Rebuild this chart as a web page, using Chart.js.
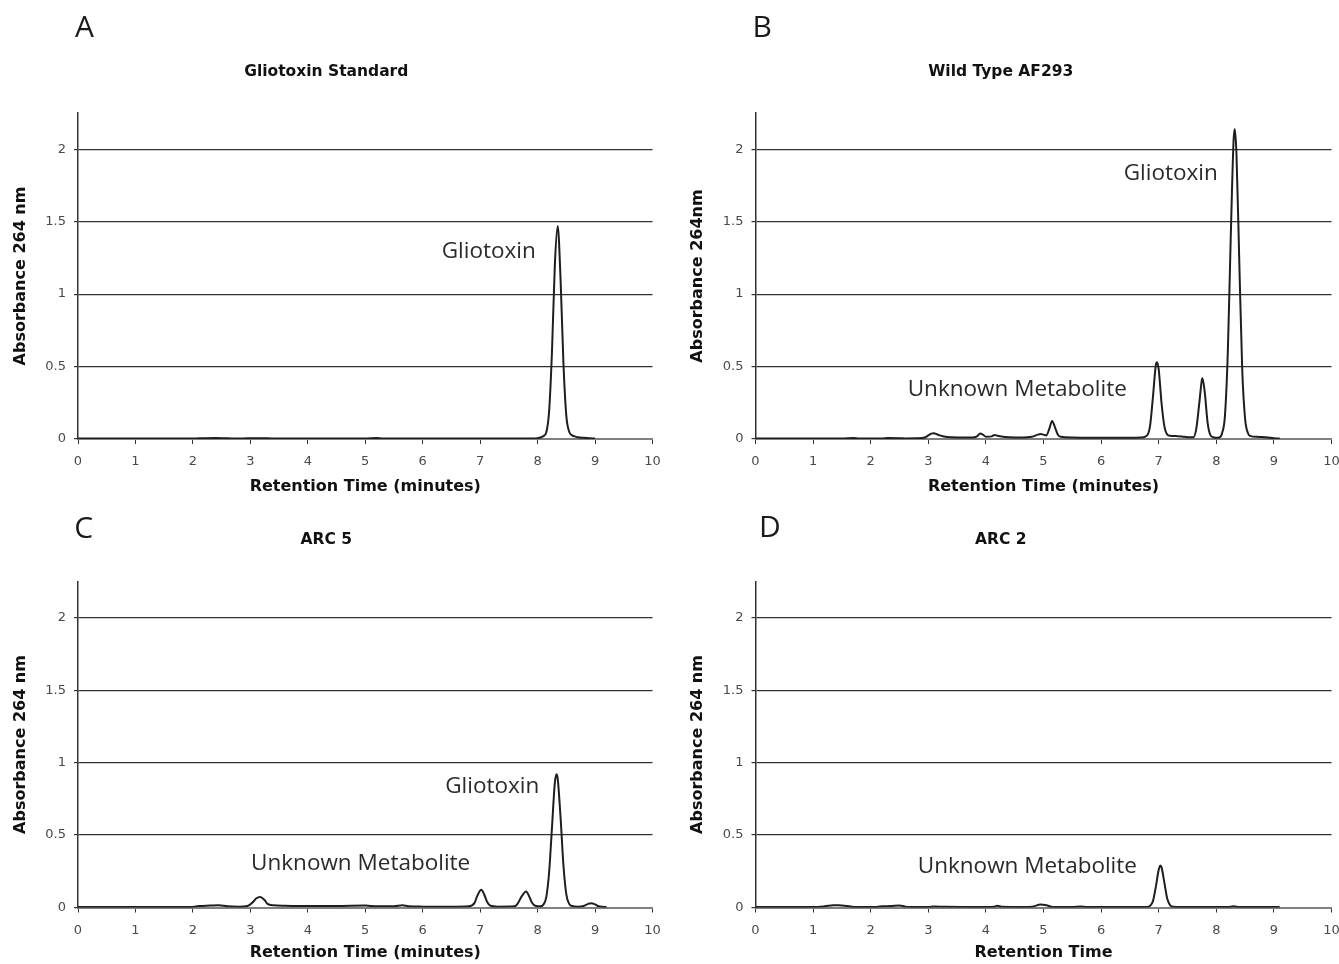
<!DOCTYPE html>
<html><head><meta charset="utf-8">
<script src="https://cdn.jsdelivr.net/npm/chart.js@4.4.1/dist/chart.umd.min.js"></script>
<style>
html,body{margin:0;padding:0;background:#fff}
body{width:1339px;height:964px;position:relative;overflow:hidden}
canvas{position:absolute}
</style></head><body>
<canvas id="cA" width="670" height="500" style="left:0;top:0"></canvas>
<canvas id="cB" width="669" height="500" style="left:670px;top:0"></canvas>
<canvas id="cC" width="670" height="464" style="left:0;top:500px"></canvas>
<canvas id="cD" width="669" height="464" style="left:670px;top:500px"></canvas>
<script>
// ---- tick labels ----
const xTicks = [0, 1, 2, 3, 4, 5, 6, 7, 8, 9, 10];
const yTicks = [0, 0.5, 1, 1.5, 2];

// ---- A: Gliotoxin Standard ----
const timeA = [0,0.5,1,1.5,2,2.2,2.4,2.6,2.8,3.1,3.2,3.4,4,4.5,5,5.2,5.3,6,7,7.5,7.9,8,8.05,8.1,8.15,8.2,8.25,8.3,8.35,8.4,8.45,8.5,8.55,8.6,8.65,8.7,8.8,8.9,9.0];
const absA  = [0.003,0.003,0.003,0.003,0.003,0.006,0.007,0.005,0.003,0.006,0.006,0.003,0.003,0.003,0.003,0.007,0.004,0.003,0.003,0.003,0.004,0.006,0.01,0.02,0.045,0.19,0.6,1.2,1.47,1.1,0.52,0.16,0.05,0.025,0.018,0.012,0.008,0.006,0.003];

// ---- B: Wild Type AF293 ----
const timeB = [0,0.5,1,1.5,1.7,1.8,2.2,2.3,2.5,2.6,2.8,2.95,3.0,3.05,3.1,3.15,3.2,3.3,3.4,3.6,3.8,3.85,3.9,3.95,4.0,4.1,4.15,4.2,4.3,4.4,4.6,4.8,4.9,4.95,5.0,5.05,5.1,5.15,5.2,5.25,5.3,5.5,6.0,6.5,6.7,6.8,6.85,6.9,6.95,6.97,7.0,7.05,7.1,7.15,7.2,7.3,7.4,7.5,7.6,7.65,7.7,7.75,7.76,7.8,7.85,7.9,7.95,8.0,8.05,8.1,8.15,8.2,8.25,8.3,8.32,8.35,8.4,8.45,8.5,8.55,8.6,8.7,8.8,8.9,9.0,9.1];
const absB  = [0.004,0.004,0.004,0.004,0.007,0.004,0.004,0.007,0.006,0.004,0.005,0.012,0.025,0.037,0.04,0.033,0.025,0.015,0.012,0.01,0.012,0.02,0.038,0.03,0.015,0.018,0.028,0.022,0.015,0.012,0.01,0.015,0.03,0.035,0.03,0.025,0.07,0.125,0.08,0.03,0.015,0.01,0.008,0.008,0.01,0.025,0.09,0.29,0.51,0.53,0.48,0.245,0.085,0.03,0.022,0.02,0.018,0.012,0.012,0.065,0.23,0.41,0.42,0.32,0.11,0.025,0.012,0.008,0.01,0.04,0.16,0.6,1.38,2.06,2.14,1.97,1.21,0.48,0.14,0.04,0.02,0.015,0.014,0.01,0.006,0.003];

// ---- C: ARC 5 ----
const timeC = [0,1,2,2.1,2.3,2.45,2.6,2.8,2.95,3.05,3.1,3.17,3.25,3.3,3.4,3.6,4.0,4.5,5.0,5.1,5.5,5.65,5.75,6.0,6.5,6.8,6.9,6.95,7.02,7.07,7.12,7.18,7.3,7.6,7.65,7.72,7.8,7.85,7.9,7.97,8.05,8.1,8.15,8.2,8.25,8.3,8.33,8.35,8.4,8.45,8.5,8.55,8.6,8.7,8.8,8.88,8.93,9.0,9.05,9.15,9.2];
const absC  = [0.003,0.003,0.004,0.01,0.013,0.015,0.008,0.006,0.01,0.04,0.062,0.072,0.05,0.025,0.015,0.012,0.01,0.01,0.013,0.01,0.008,0.015,0.008,0.006,0.005,0.008,0.03,0.08,0.122,0.09,0.04,0.012,0.006,0.008,0.025,0.075,0.11,0.08,0.035,0.01,0.008,0.02,0.07,0.24,0.55,0.86,0.92,0.89,0.62,0.29,0.09,0.025,0.01,0.006,0.01,0.025,0.03,0.022,0.01,0.004,0.003];

// ---- D: ARC 2 ----
const timeD = [0,1,1.2,1.35,1.45,1.6,1.75,2.1,2.2,2.35,2.5,2.6,2.8,3.0,3.1,3.3,3.6,4.0,4.15,4.2,4.27,4.5,4.8,4.95,5.05,5.15,5.5,5.65,5.75,6.5,6.8,6.85,6.9,6.95,7.0,7.03,7.05,7.1,7.15,7.2,7.25,7.6,8.2,8.3,8.4,8.8,9.0,9.1];
const absD  = [0.003,0.003,0.008,0.015,0.016,0.01,0.004,0.004,0.008,0.01,0.014,0.006,0.003,0.003,0.007,0.005,0.004,0.004,0.006,0.012,0.005,0.004,0.006,0.02,0.015,0.004,0.003,0.007,0.003,0.003,0.004,0.012,0.044,0.142,0.26,0.29,0.277,0.168,0.058,0.015,0.005,0.003,0.003,0.008,0.003,0.004,0.004,0.003];

// ---- texts ----
const panelLetters = ['A', 'B', 'C', 'D'];
const panelTitles  = ['Gliotoxin Standard', 'Wild Type AF293', 'ARC 5', 'ARC 2'];
const yTitles      = ['Absorbance 264 nm', 'Absorbance 264nm', 'Absorbance 264 nm', 'Absorbance 264 nm'];
const xTitles      = ['Retention Time (minutes)', 'Retention Time (minutes)', 'Retention Time (minutes)', 'Retention Time'];

// peak labels, anchored in data coordinates (centre x, baseline y)
const notesA = [{text: 'Gliotoxin', x: 7.15, y: 1.25}];
const notesB = [{text: 'Gliotoxin', x: 7.21, y: 1.79}, {text: 'Unknown Metabolite', x: 4.545, y: 0.30}];
const notesC = [{text: 'Gliotoxin', x: 7.21, y: 0.787}, {text: 'Unknown Metabolite', x: 4.92, y: 0.258}];
const notesD = [{text: 'Unknown Metabolite', x: 4.72, y: 0.239}];

// ---- layout (pixel geometry of each panel canvas) ----
const panels = [
  {id: 'cA', t: timeA, a: absA, notes: notesA, i: 0, yW: 78,   padR: 17.5, xH: 61,   titleTop: 62.2, titleBot: 32.2, yTitlePad: 11.7, xTitlePad: 3.4, letter: {x: 75,   y: 37.3}},
  {id: 'cB', t: timeB, a: absB, notes: notesB, i: 1, yW: 85.5, padR: 7.5,  xH: 61,   titleTop: 62.2, titleBot: 32.2, yTitlePad: 18.1, xTitlePad: 3.4, letter: {x: 82.6, y: 37.3}},
  {id: 'cC', t: timeC, a: absC, notes: notesC, i: 2, yW: 78,   padR: 17.5, xH: 56.5, titleTop: 30.7, titleBot: 32.2, yTitlePad: 11.7, xTitlePad: 1.4, letter: {x: 74.2, y: 38.3}},
  {id: 'cD', t: timeD, a: absD, notes: notesD, i: 3, yW: 85.5, padR: 7.5,  xH: 56.5, titleTop: 30.7, titleBot: 32.2, yTitlePad: 18.1, xTitlePad: 1.4, letter: {x: 89,   y: 37.3}}
];

Chart.defaults.font.family = "'DejaVu Sans', Verdana, sans-serif";
Chart.defaults.animation = false;

const textPlugin = {
  id: 'panelText',
  afterDraw(chart, args, opts) {
    const ctx = chart.ctx;
    const xs = chart.scales.x, ys = chart.scales.y;
    ctx.save();
    ctx.fillStyle = '#2a2a2a';
    ctx.font = "22.5px 'Open Sans'";
    ctx.textAlign = 'center';
    ctx.textBaseline = 'alphabetic';
    opts.notes.forEach(n => {
      ctx.fillText(n.text, xs.getPixelForValue(n.x), ys.getPixelForValue(n.y));
    });
    ctx.font = "30px 'Open Sans'";
    ctx.textAlign = 'left';
    ctx.fillStyle = '#1a1a1a';
    ctx.fillText(opts.letter.text, opts.letter.x, opts.letter.y);
    ctx.restore();
  }
};

panels.forEach(p => {
  const pts = p.t.map((t, k) => ({x: t, y: p.a[k]}));
  new Chart(document.getElementById(p.id), {
    type: 'line',
    data: {datasets: [{
      data: pts,
      borderColor: '#1e1e1e',
      borderWidth: 2,
      pointRadius: 0,
      fill: false,
      cubicInterpolationMode: 'monotone'
    }]},
    plugins: [textPlugin],
    options: {
      responsive: false,
      animation: false,
      layout: {padding: {left: 0, right: p.padR, top: 0, bottom: 0}},
      plugins: {
        legend: {display: false},
        tooltip: {enabled: false},
        title: {
          display: true,
          text: panelTitles[p.i],
          color: '#111',
          font: {size: 15.5, weight: 'bold'},
          padding: {top: p.titleTop, bottom: p.titleBot}
        },
        panelText: {notes: p.notes, letter: {text: panelLetters[p.i], x: p.letter.x, y: p.letter.y}}
      },
      scales: {
        x: {
          type: 'linear', min: xTicks[0], max: xTicks[xTicks.length - 1],
          afterBuildTicks: s => { s.ticks = xTicks.map(v => ({value: v})); },
          afterFit: s => { s.height = p.xH; s.paddingLeft = 0; s.paddingRight = 0; },
          ticks: {color: '#4a4a4a', font: {size: 13}, padding: 10, maxRotation: 0, autoSkip: false, callback: v => String(v)},
          grid: {drawOnChartArea: false, drawTicks: true, tickLength: 5, color: '#333', lineWidth: 1},
          border: {display: true, color: '#808080', width: 2},
          title: {display: true, text: xTitles[p.i], color: '#111', font: {size: 16, weight: 'bold'}, padding: {top: 0, bottom: p.xTitlePad}}
        },
        y: {
          type: 'linear', min: 0, max: 2.25,
          afterBuildTicks: s => { s.ticks = yTicks.map(v => ({value: v})); },
          afterFit: s => { s.width = p.yW; s.paddingTop = 0; s.paddingBottom = 0; },
          ticks: {color: '#4a4a4a', font: {size: 13}, padding: 8, callback: v => String(v)},
          grid: {
            drawOnChartArea: true, drawTicks: true, tickLength: 4,
            color: c => (c.tick && c.tick.value === 0) ? 'rgba(0,0,0,0)' : '#333',
            tickColor: '#333', lineWidth: 1.2
          },
          border: {display: true, color: '#333', width: 1.5},
          title: {display: true, text: yTitles[p.i], color: '#111', font: {size: 16, weight: 'bold'}, padding: {top: p.yTitlePad, bottom: 0}}
        }
      }
    }
  });
});
</script>
</body></html>
